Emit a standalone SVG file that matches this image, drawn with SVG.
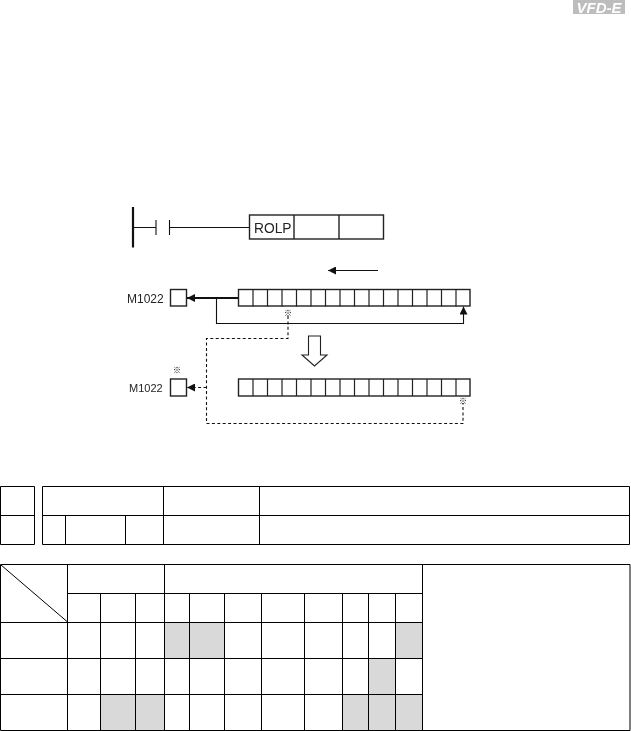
<svg xmlns="http://www.w3.org/2000/svg" width="631" height="731" viewBox="0 0 631 731">
<style>
.t{font-family:"Liberation Sans",Arial,sans-serif;fill:#222;opacity:.99}
.k{font-family:"Noto Sans CJK SC","DejaVu Sans",sans-serif;font-size:8px;font-weight:700;fill:#000;text-anchor:middle;filter:grayscale(1)}
.l{fill:none;stroke:#111;stroke-width:1.1}
.b{fill:#fff;stroke:#222;stroke-width:1.4}
.c{fill:none;stroke:#222;stroke-width:1.2}
.d{fill:none;stroke:#111;stroke-width:1.1;stroke-dasharray:3 2.4}
.g{fill:none;stroke:#000;stroke-width:1}
.s{fill:#d9d9d9}
</style>
<defs>
<marker id="ah" markerUnits="userSpaceOnUse" markerWidth="9" markerHeight="8" refX="8" refY="4" orient="auto"><path d="M0 0L8 4L0 8Z" fill="#111"/></marker>
<path id="reg" class="c" d="M253 0V17M267.500 0V17M282 0V17M296.500 0V17M311 0V17M325.500 0V17M340 0V17M354.500 0V17M369 0V17M383.500 0V17M398 0V17M412.500 0V17M427 0V17M441.500 0V17M456 0V17"/>
</defs>
<g id="logo"><rect x="573" y="0" width="52" height="14" fill="#bdbdbd"/><text x="599" y="12.500" font-size="15" font-weight="700" font-style="italic" text-anchor="middle" fill="#fff" opacity=".99" font-family="'Liberation Sans',sans-serif">VFD-E</text></g>
<g id="connectors">
<path class="l" d="M133 207V247.500" style="stroke-width:2.200"/>
<path class="l" d="M133 227.500H156M156 220V235M169.500 220V235M169.500 227.500H249"/>
<path class="l" marker-end="url(#ah)" d="M378 270.500H328"/>
<path class="l" style="stroke-width:2" marker-end="url(#ah)" d="M238 298H187"/>
<path class="l" marker-end="url(#ah)" d="M216.500 298V323.500H463.500V306.500"/>
<path class="d" d="M288 316V338.500H206.500V423.500H463V403"/>
<path class="d" marker-end="url(#ah)" d="M206.500 387.500H187"/>
</g>
<g id="ladder-instruction"><rect class="b" x="249.500" y="215" width="134" height="24"/><path class="b" d="M294 215V239M339 215V239"/><text class="t" x="254" y="232.500" font-size="13.800">ROLP</text></g>
<g id="m1022-top"><text class="t" x="127" y="302.500" font-size="12">M1022</text><rect class="b" x="170.500" y="289.500" width="16" height="16.500"/></g>
<g id="register-top"><rect class="b" x="238.500" y="289.500" width="231.500" height="16.500"/><use href="#reg" y="289.500"/></g>
<g id="mark-1"><text class="k" x="288" y="315.500">※</text></g>
<g id="down-arrow"><path d="M308.500 336H320.500V355H327L314.500 366L302 355H308.500Z" fill="#fff" stroke="#222" stroke-width="1.100"/></g>
<g id="mark-2"><text class="k" x="177" y="373">※</text></g>
<g id="m1022-bottom"><text class="t" x="129" y="392" font-size="11">M1022</text><rect class="b" x="170.500" y="379" width="16" height="17"/></g>
<g id="register-bottom"><rect class="b" x="238.500" y="379" width="231.500" height="17"/><use href="#reg" y="379"/></g>
<g id="mark-3"><text class="k" x="463" y="403.500">※</text></g>
<g id="table-top"><path class="g" d="M0.500 486.500H34.500V544.500H0.500ZM0.500 515.500H34.500M42.500 486.500H629.500V544.500H42.500ZM42.500 515.500H629.500M65.500 515.500V544.500M125.500 515.500V544.500M163.500 486.500V544.500M259.500 486.500V544.500"/></g>
<g id="table-bottom">
<rect class="s" x="164.500" y="622.500" width="60" height="36"/><rect class="s" x="395.500" y="622.500" width="27" height="36"/><rect class="s" x="368.500" y="658.500" width="27" height="36"/><rect class="s" x="100.500" y="694.500" width="64" height="36"/><rect class="s" x="342.500" y="694.500" width="80" height="36"/>
<path class="g" d="M0.500 564.500H630V730.500H0.500ZM67.500 593.500H422.500M0.500 622.500H422.500M0.500 658.500H422.500M0.500 694.500H422.500M67.500 564.500V730.500M100.500 593.500V730.500M135.500 593.500V730.500M164.500 564.500V730.500M189.500 593.500V730.500M224.500 593.500V730.500M261.500 593.500V730.500M304.500 593.500V730.500M342.500 593.500V730.500M368.500 593.500V730.500M395.500 593.500V730.500M422.500 564.500V730.500M1 565L67 621.500"/>
</g>
</svg>
